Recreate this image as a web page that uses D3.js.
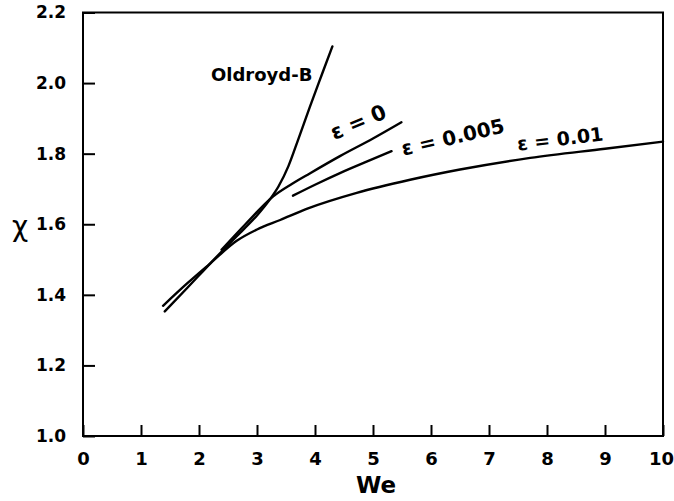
<!DOCTYPE html>
<html>
<head>
<meta charset="utf-8">
<script src="https://cdn.jsdelivr.net/npm/d3@7"></script>
<style>
  body { margin: 0; background: #fff; }
  svg { display: block; }
  .tick text { font-family: "DejaVu Sans", sans-serif; font-weight: bold; fill: #000; }
  .lbl { font-family: "DejaVu Sans", sans-serif; font-weight: bold; fill: #000; }
</style>
</head>
<body>
<div id="chart"></div>
<script>
// values (We, chi)
var xTicks = [0, 1, 2, 3, 4, 5, 6, 7, 8, 9, 10];
var yTicks = [1.0, 1.2, 1.4, 1.6, 1.8, 2.0, 2.2];

var weOldroyd  = [1.41, 1.8, 2.2, 2.6, 3.0, 3.22, 3.37, 3.54, 3.71, 3.91, 4.12, 4.30];
var chiOldroyd = [1.353, 1.420, 1.490, 1.558, 1.625, 1.670, 1.707, 1.764, 1.840, 1.932, 2.025, 2.104];

var weEps0  = [2.39, 2.8, 3.28, 3.6, 3.91, 4.43, 5.0, 5.49];
var chiEps0 = [1.528, 1.600, 1.679, 1.714, 1.744, 1.793, 1.843, 1.889];

var weEps005  = [3.62, 4.0, 4.43, 4.9, 5.32];
var chiEps005 = [1.681, 1.712, 1.745, 1.778, 1.807];

var weEps01  = [1.38, 1.8, 2.2, 2.65, 3.0, 3.4, 3.88, 4.72, 5.64, 6.5, 7.71, 9.0, 10];
var chiEps01 = [1.369, 1.433, 1.490, 1.553, 1.585, 1.612, 1.645, 1.689, 1.726, 1.755, 1.788, 1.814, 1.834];

var W = 674, H = 501;
// plot box (window.top is reserved, so prefixed names)
var pLeft = 83, pRight = 663, pTop = 12.5, pBottom = 436;

var svg = d3.select('#chart').append('svg')
  .attr('width', W).attr('height', H);

var x = d3.scaleLinear().domain([0, 10]).range([pLeft, pRight]);
var y = d3.scaleLinear().domain([1.0, 2.2]).range([pBottom, pTop]);

// axes, ticks pointing inward
svg.append('g')
  .attr('transform', 'translate(0,' + pBottom + ')')
  .call(d3.axisBottom(x).tickValues(xTicks).tickSize(-11).tickPadding(16).tickFormat(d3.format('d')))
  .call(function(g) {
    g.select('.domain').remove();
    g.selectAll('.tick line').attr('stroke', '#000').attr('stroke-width', 2);
    g.selectAll('.tick text').style('font-size', '18px');
    // keep "10" inside the window
    g.selectAll('.tick text').filter(function(d) { return d === 10; }).attr('dx', -2);
  });

svg.append('g')
  .attr('transform', 'translate(' + pLeft + ',0)')
  .call(d3.axisLeft(y).tickValues(yTicks).tickSize(-12).tickPadding(17).tickFormat(d3.format('.1f')))
  .call(function(g) {
    g.select('.domain').remove();
    g.selectAll('.tick line').attr('stroke', '#000').attr('stroke-width', 2);
    g.selectAll('.tick text').style('font-size', '17px');
  });

// frame
svg.append('rect')
  .attr('x', pLeft).attr('y', pTop)
  .attr('width', pRight - pLeft).attr('height', pBottom - pTop)
  .attr('fill', 'none').attr('stroke', '#000').attr('stroke-width', 2);

var line = d3.line()
  .x(function(d) { return x(d[0]); })
  .y(function(d) { return y(d[1]); })
  .curve(d3.curveMonotoneX);

var curves = [
  d3.zip(weOldroyd, chiOldroyd),
  d3.zip(weEps0, chiEps0),
  d3.zip(weEps005, chiEps005),
  d3.zip(weEps01, chiEps01)
];

svg.selectAll('path.curve')
  .data(curves).enter()
  .append('path')
  .attr('class', 'curve')
  .attr('d', line)
  .attr('fill', 'none')
  .attr('stroke', '#000')
  .attr('stroke-width', 2.4)
  .attr('stroke-linecap', 'round');

// curve labels
var labels = [
  {t: 'Oldroyd-B', we: 2.207, chi: 2.005, rot: 0, size: 18},
  {t: 'ε = 0', we: 4.33, chi: 1.838, rot: -23, size: 21},
  {t: 'ε = 0.005', we: 5.52, chi: 1.794, rot: -13, size: 20},
  {t: 'ε = 0.01', we: 7.50, chi: 1.808, rot: -7, size: 19}
];

svg.selectAll('text.lbl')
  .data(labels).enter()
  .append('text')
  .attr('class', 'lbl')
  .attr('transform', function(d) { return 'translate(' + x(d.we) + ',' + y(d.chi) + ') rotate(' + d.rot + ')'; })
  .style('font-size', function(d) { return d.size + 'px'; })
  .text(function(d) { return d.t; });

// axis titles
svg.append('text')
  .attr('class', 'lbl')
  .attr('x', (pLeft + pRight) / 2 + 3).attr('y', 493)
  .attr('text-anchor', 'middle')
  .style('font-size', '23px')
  .text('We');

svg.append('text')
  .attr('x', 20).attr('y', 236)
  .attr('text-anchor', 'middle')
  .style('font-family', '"DejaVu Sans", sans-serif')
  .style('font-size', '28px')
  .text('χ');
</script>
</body>
</html>
